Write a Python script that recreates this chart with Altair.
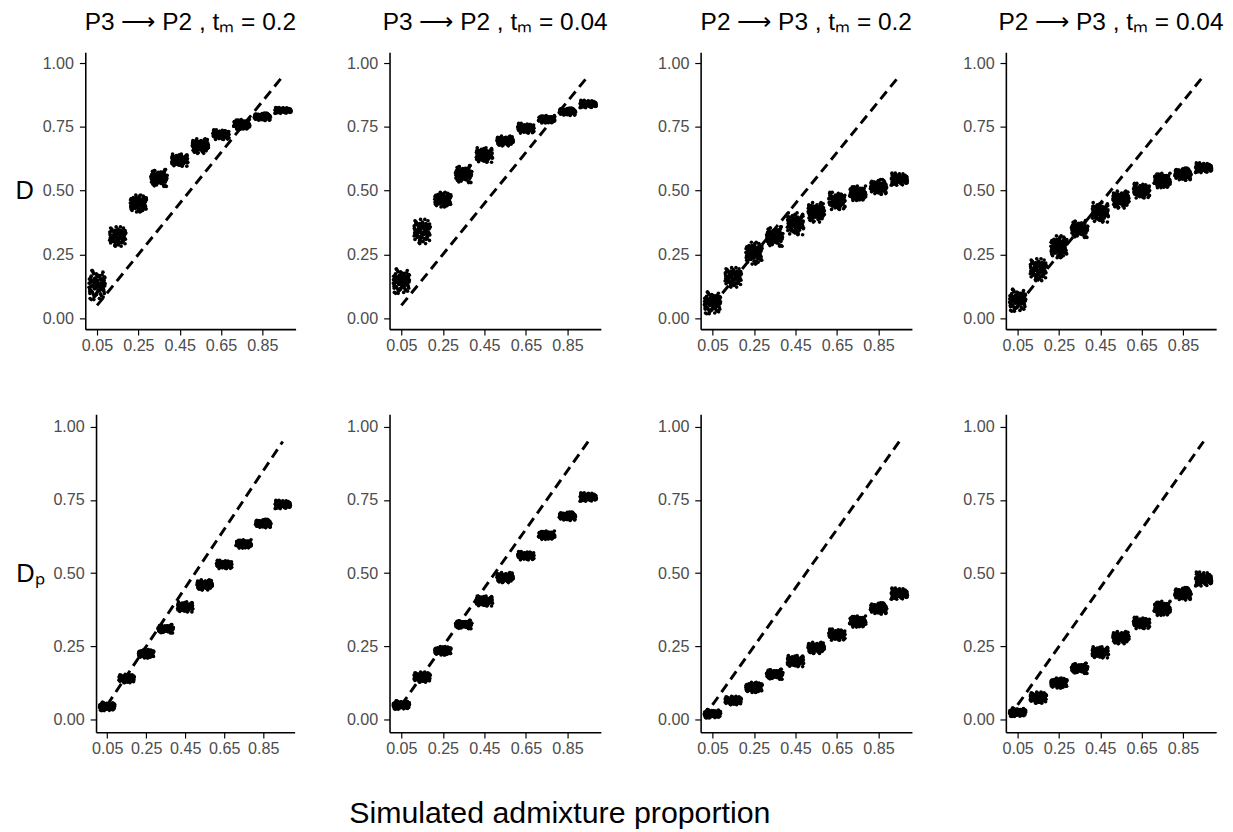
import altair as alt
import pandas as pd

# ---------------- data ----------------
X_LEVELS = [0.05, 0.15, 0.25, 0.35, 0.45, 0.55, 0.65, 0.75, 0.85, 0.95]
X_LABELS = ["0.05", "0.25", "0.45", "0.65", "0.85"]
Y_TICKS = [0.0, 0.25, 0.5, 0.75, 1.0]

PANEL_TITLES = ["P3 ⟶ P2 , tₘ = 0.2", "P3 ⟶ P2 , tₘ = 0.04",
                "P2 ⟶ P3 , tₘ = 0.2", "P2 ⟶ P3 , tₘ = 0.04"]
ROW_LABELS = ["D", "Dₚ"]
X_TITLE = "Simulated admixture proportion"

# cluster centres (mean estimate per simulated proportion)
D_P3P2_02 = [0.13, 0.32, 0.45, 0.55, 0.62, 0.675, 0.72, 0.76, 0.79, 0.815]
D_P3P2_004 = [0.145, 0.34, 0.465, 0.565, 0.64, 0.695, 0.745, 0.78, 0.81, 0.84]
D_P2P3_02 = [0.06, 0.16, 0.255, 0.32, 0.37, 0.415, 0.46, 0.49, 0.515, 0.545]
D_P2P3_004 = [0.07, 0.19, 0.28, 0.35, 0.415, 0.465, 0.50, 0.54, 0.565, 0.59]
DP_P3P2_02 = [0.045, 0.14, 0.225, 0.31, 0.385, 0.46, 0.53, 0.60, 0.67, 0.735]
DP_P3P2_004 = [0.05, 0.145, 0.235, 0.325, 0.405, 0.485, 0.56, 0.63, 0.695, 0.76]
DP_P2P3_02 = [0.02, 0.065, 0.11, 0.155, 0.20, 0.245, 0.29, 0.335, 0.38, 0.43]
DP_P2P3_004 = [0.025, 0.075, 0.125, 0.175, 0.23, 0.28, 0.33, 0.38, 0.43, 0.48]

# half-height of each replicate cloud
S_D_P3P2_02 = [0.06, 0.04, 0.035, 0.035, 0.025, 0.03, 0.02, 0.02, 0.015, 0.012]
S_D_P3P2_004 = [0.05, 0.05, 0.03, 0.035, 0.03, 0.02, 0.02, 0.015, 0.015, 0.015]
S_D_P2P3_02 = [0.045, 0.04, 0.045, 0.04, 0.045, 0.04, 0.035, 0.03, 0.03, 0.025]
S_D_P2P3_004 = [0.045, 0.045, 0.045, 0.035, 0.04, 0.035, 0.03, 0.03, 0.025, 0.02]
S_DP_P3P2_02 = [0.015, 0.015, 0.015, 0.015, 0.018, 0.018, 0.015, 0.015, 0.015, 0.015]
S_DP_P3P2_004 = [0.015, 0.018, 0.015, 0.015, 0.018, 0.018, 0.015, 0.015, 0.015, 0.015]
S_DP_P2P3_02 = [0.015, 0.015, 0.018, 0.018, 0.02, 0.02, 0.02, 0.02, 0.02, 0.02]
S_DP_P2P3_004 = [0.015, 0.02, 0.018, 0.018, 0.02, 0.022, 0.02, 0.025, 0.022, 0.025]

# fixed scatter pattern of replicates inside one cloud (unit offsets)
U = [-0.95, -0.82, -0.71, -0.60, -0.52, -0.44, -0.35, -0.27, -0.18, -0.09, 0.02,
     0.11, 0.19, 0.28, 0.37, 0.45, 0.53, 0.62, 0.70, 0.79, 0.88, 0.97,
     -0.90, -0.77, -0.65, -0.48, -0.31, -0.22, -0.13, -0.04, 0.06, 0.15, 0.24,
     0.33, 0.41, 0.57, 0.66, 0.74, 0.84, 0.93,
     -0.58, -0.39, -0.02, 0.09, 0.49, 0.86, -0.86, 0.30]
V = [0.12, -0.35, 0.58, -0.08, 0.31, -0.62, 0.05, 0.44, -0.21, 0.73, -0.47,
     0.18, -0.05, -0.88, 0.39, 0.02, -0.30, 0.66, -0.14, 0.25, -0.55, 0.09,
     -0.18, 0.47, -0.40, 0.84, 0.21, -0.70, 0.35, -0.12, 0.55, -0.33, 0.10,
     0.62, -0.58, 0.41, -0.25, -0.78, 0.30, -0.06,
     0.95, -0.95, 0.28, -0.42, -0.15, 0.52, -0.27, 0.00]
JITTER_W = 0.04

DIAG_X = [0.05, 0.95]
DIAG_Y = [0.05, 0.95]

PANELS = [
    [(D_P3P2_02, S_D_P3P2_02), (D_P3P2_004, S_D_P3P2_004),
     (D_P2P3_02, S_D_P2P3_02), (D_P2P3_004, S_D_P2P3_004)],
    [(DP_P3P2_02, S_DP_P3P2_02), (DP_P3P2_004, S_DP_P3P2_004),
     (DP_P2P3_02, S_DP_P2P3_02), (DP_P2P3_004, S_DP_P2P3_004)],
]


def cloud_df(centres, spreads):
    rows = []
    n = len(U)
    for i, (x, c, s) in enumerate(zip(X_LEVELS, centres, spreads)):
        for j in range(n):
            k = (j + 7 * i) % n
            rows.append({"x": x + U[j] * JITTER_W, "y": c + V[k] * s})
            k2 = (j + 23 + 5 * i) % n
            rows.append({"x": x - U[j] * JITTER_W, "y": c + V[k2] * s})
    return pd.DataFrame(rows)


diag_df = pd.DataFrame({"x": DIAG_X, "y": DIAG_Y})

FONT = "Liberation Sans"
label_expr = "indexof(" + str(X_LABELS) + ", datum.label) >= 0 ? datum.label : ''"

X_DOMAIN = [-0.007, 1.011]
y_scale = alt.Scale(domain=[-0.043, 1.043], nice=False, zero=False)

common_axis = dict(grid=False, domainColor="black", domainWidth=1.6,
                   tickColor="black", tickWidth=1.2, tickSize=6,
                   labelColor="#4d4d4d", labelFontSize=16.5, labelFont=FONT)


def panel(row, col, width, height, inset=0):
    centres, spreads = PANELS[row][col]
    df = cloud_df(centres, spreads)
    if inset:
        x_scale = alt.Scale(domain=X_DOMAIN, nice=False, zero=False,
                            range=[inset, width])
    else:
        x_scale = alt.Scale(domain=X_DOMAIN, nice=False, zero=False)
    xaxis = alt.Axis(values=X_LEVELS, format=".2f", labelExpr=label_expr,
                     labelFlush=False, labelOverlap=False, title=None,
                     labelPadding=3, **common_axis)
    yextra = {"offset": -inset} if inset else {}
    if col == 0:
        yaxis = alt.Axis(values=Y_TICKS, format=".2f", title=ROW_LABELS[row],
                         titleAngle=0, titleAlign="right", titleBaseline="middle",
                         titleFontSize=26, titleFont=FONT, titleFontWeight="normal",
                         titleColor="black", titlePadding=9, labelPadding=6,
                         **yextra, **common_axis)
    else:
        yaxis = alt.Axis(values=Y_TICKS, format=".2f", title=None,
                         labelPadding=6, **common_axis)

    pts = alt.Chart(df).mark_circle(size=14, color="black", opacity=1).encode(
        x=alt.X("x:Q", scale=x_scale, axis=xaxis),
        y=alt.Y("y:Q", scale=y_scale, axis=yaxis),
    )
    line = alt.Chart(diag_df).mark_line(color="black", strokeWidth=3,
                                        strokeDash=[10, 6]).encode(
        x=alt.X("x:Q"),
        y=alt.Y("y:Q"),
    )
    props = dict(width=width, height=height)
    if row == 0:
        props["title"] = alt.TitleParams(PANEL_TITLES[col], fontSize=25, font=FONT,
                                         fontWeight="normal", color="black",
                                         anchor="middle", frame="group",
                                         baseline="top", offset=18)
    return alt.layer(pts, line).properties(**props)


TOP_W = [215, 216, 216, 215]
BOT_W = [214, 216, 216, 215]
cells = [panel(0, c, TOP_W[c], 283) for c in range(4)]
cells += [panel(1, 0, BOT_W[0], 325, inset=11)]
cells += [panel(1, c, BOT_W[c], 325) for c in range(1, 4)]

chart = alt.concat(*cells, columns=4, align="none",
                   spacing=alt.RowColnumber(row=60, column=49)).properties(
    title=alt.TitleParams(X_TITLE, orient="bottom", fontSize=31, font=FONT,
                          fontWeight="normal", color="black", anchor="middle",
                          dx=-61, offset=67, baseline="alphabetic"),
    padding={"left": 6, "top": -8, "right": 0, "bottom": 5},
).configure_view(stroke="transparent")

chart.save("out.html", embed_options={"renderer": "svg", "actions": False})
